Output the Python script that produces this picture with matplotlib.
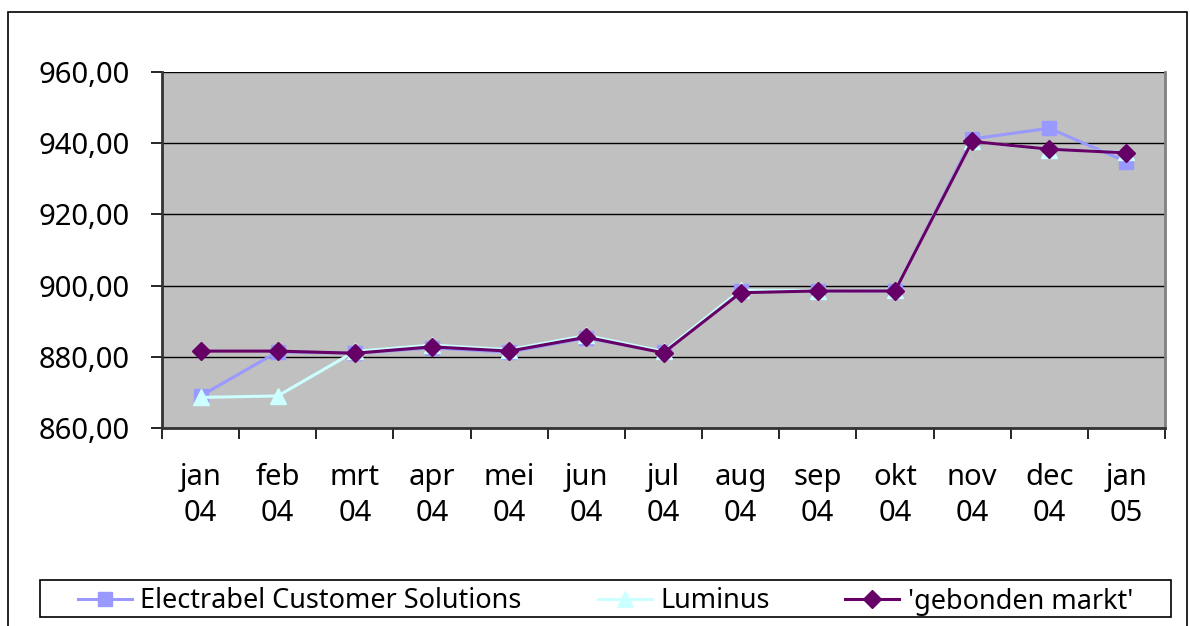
import numpy as np
import matplotlib
matplotlib.use("Agg")
import matplotlib.pyplot as plt
from matplotlib.patches import Rectangle

months = ["jan\n04", "feb\n04", "mrt\n04", "apr\n04", "mei\n04", "jun\n04", "jul\n04",
          "aug\n04", "sep\n04", "okt\n04", "nov\n04", "dec\n04", "jan\n05"]
electrabel = [869.0, 881.4, 881.0, 882.5, 881.3, 885.3, 881.3, 898.5, 898.5, 898.5, 941.2, 944.2, 934.8]
luminus = [868.6, 869.0, 881.5, 883.3, 882.0, 886.0, 881.5, 898.7, 898.6, 898.7, 940.5, 938.2, 937.5]
gebonden = [881.6, 881.6, 881.0, 882.8, 881.6, 885.5, 881.1, 898.0, 898.5, 898.5, 940.5, 938.3, 937.3]
yticks = [860, 880, 900, 920, 940, 960]
series_names = ["Electrabel Customer Solutions", "Luminus", "'gebonden markt'"]

plt.rcParams['font.family'] = ['Noto Sans', 'DejaVu Sans']
FS = 21
LFS = 19.5

W, H = 1190, 626
fig = plt.figure(figsize=(W / 100, H / 100), dpi=100)
fig.patch.set_facecolor("white")

# outer chart border
fig.add_artist(Rectangle((8 / W, -0.1), (1187 - 8) / W, 1.1 - 11.7 / H,
                         transform=fig.transFigure, fill=False, edgecolor="black", lw=1.2))

ax = fig.add_axes([162 / W, 1 - 428 / H, 1003 / W, 356 / H])
ax.set_facecolor("#C0C0C0")
x = np.arange(len(months))

ax.plot(x, electrabel, color="#9999FF", lw=2.2, marker="s", ms=10, mec="#9999FF", mfc="#9999FF",
        label=series_names[0], zorder=3)
ax.plot(x, luminus, color="#CCFFFF", lw=2.2, marker="^", ms=12, mec="#CCFFFF", mfc="#CCFFFF",
        label=series_names[1], zorder=4)
ax.plot(x, gebonden, color="#660066", lw=2.2, marker="D", ms=9, mec="#660066", mfc="#660066",
        label=series_names[2], zorder=5)

ax.set_xlim(-0.5, len(months) - 0.5)
ax.set_ylim(860, 960)
ax.set_yticks(yticks)
ax.set_yticklabels([f"{v:.2f}".replace(".", ",") for v in yticks], fontsize=FS)
ax.yaxis.grid(True, color="black", lw=1)
ax.set_axisbelow(True)

ax.set_xticks(np.arange(-0.5, len(months), 1))
ax.set_xticklabels([""] * len(np.arange(-0.5, len(months), 1)))
ax.set_xticks(x, minor=True)
ax.set_xticklabels(months, minor=True, fontsize=FS, linespacing=1.35)
ax.tick_params(axis="x", which="major", direction="out", length=8, width=1.2, color="black")
ax.tick_params(axis="x", which="minor", length=0, pad=25)
ax.tick_params(axis="y", direction="out", length=8, width=1.2, color="black", pad=15)

for s in ["left", "bottom"]:
    ax.spines[s].set_color("#333333")
    ax.spines[s].set_linewidth(2)
for s in ["top", "right"]:
    ax.spines[s].set_color("#808080")
    ax.spines[s].set_linewidth(2)
ax.spines["top"].set_visible(False)

# legend box
fig.add_artist(Rectangle((40 / W, 1 - 617 / H), (1171 - 40) / W, 37 / H,
                         transform=fig.transFigure, fill=True, facecolor="white",
                         edgecolor="black", lw=1.2, zorder=1))
leg = fig.legend(loc="center", bbox_to_anchor=(605.5 / W, 1 - 601.5 / H), ncol=3,
                 fontsize=LFS, frameon=False,
                 handlelength=2.0, handletextpad=0.3, columnspacing=2.8, borderpad=0.0,
                 borderaxespad=0)
leg.set_zorder(2)

fig.savefig("out.png", dpi=100)
